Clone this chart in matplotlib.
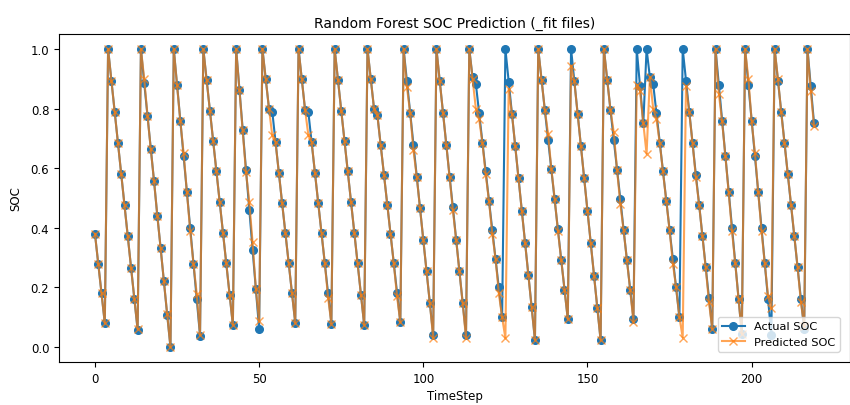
import numpy as np
import matplotlib
matplotlib.use("Agg")
import matplotlib.pyplot as plt

# SOC values, one entry per time step
actual_soc = [
    0.38, 0.28, 0.18, 0.08,
    1.0, 0.894, 0.787, 0.685, 0.58, 0.475, 0.371, 0.264, 0.161, 0.057,
    1.0, 0.886, 0.776, 0.664, 0.556, 0.44, 0.332, 0.22, 0.108, 0.0,
    1.0, 0.879, 0.757, 0.64, 0.521, 0.40, 0.28, 0.161, 0.038,
    1.0, 0.897, 0.793, 0.691, 0.589, 0.486, 0.383, 0.281, 0.176, 0.074,
    1.0, 0.863, 0.729, 0.595, 0.461, 0.327, 0.196, 0.061,
    1.0, 0.899, 0.80, 0.79, 0.687, 0.584, 0.483, 0.383, 0.282, 0.181, 0.081,
    1.0, 0.899, 0.795, 0.787, 0.687, 0.584, 0.483, 0.383, 0.282, 0.181, 0.079,
    1.0, 0.897, 0.793, 0.691, 0.589, 0.486, 0.383, 0.281, 0.176, 0.074,
    1.0, 0.899, 0.799, 0.779, 0.679, 0.578, 0.478, 0.379, 0.282, 0.183, 0.083,
    1.0, 0.894, 0.785, 0.679, 0.572, 0.466, 0.36, 0.254, 0.147, 0.040,
    1.0, 0.894, 0.785, 0.679, 0.572, 0.469, 0.36, 0.254, 0.147, 0.040,
    1.0, 0.905, 0.883, 0.785, 0.685, 0.589, 0.49, 0.393, 0.297, 0.2, 0.1,
    1.0, 0.89, 0.782, 0.673, 0.566, 0.457, 0.349, 0.242, 0.133, 0.024,
    1.0, 0.897, 0.796, 0.696, 0.597, 0.498, 0.396, 0.293, 0.192, 0.094,
    1.0, 0.891, 0.782, 0.673, 0.566, 0.457, 0.348, 0.239, 0.131, 0.023,
    1.0, 0.897, 0.795, 0.696, 0.595, 0.497, 0.393, 0.293, 0.192, 0.094,
    1.0, 0.877, 0.75,
    1.0, 0.905, 0.883, 0.785, 0.685, 0.589, 0.49, 0.393, 0.297, 0.2, 0.1,
    1.0, 0.894, 0.787, 0.685, 0.578, 0.478, 0.373, 0.267, 0.163, 0.06,
    1.0, 0.88, 0.757, 0.64, 0.519, 0.40, 0.281, 0.161, 0.044,
    1.0, 0.88, 0.757, 0.64, 0.519, 0.40, 0.281, 0.161, 0.04,
    1.0, 0.894, 0.787, 0.685, 0.58, 0.478, 0.373, 0.267, 0.161, 0.06,
    1.0, 0.877, 0.75,
]

predicted_soc = [
    0.38, 0.28, 0.18, 0.08,
    1.0, 0.894, 0.787, 0.685, 0.58, 0.475, 0.371, 0.264, 0.161, 0.06,
    1.0, 0.90, 0.776, 0.664, 0.556, 0.44, 0.332, 0.22, 0.11, 0.0,
    1.0, 0.879, 0.757, 0.65, 0.521, 0.39, 0.28, 0.178, 0.04,
    1.0, 0.897, 0.793, 0.691, 0.589, 0.486, 0.383, 0.281, 0.176, 0.074,
    1.0, 0.863, 0.729, 0.586, 0.488, 0.351, 0.196, 0.086,
    1.0, 0.899, 0.80, 0.71, 0.687, 0.584, 0.483, 0.383, 0.282, 0.18, 0.081,
    1.0, 0.899, 0.795, 0.71, 0.687, 0.584, 0.483, 0.383, 0.282, 0.166, 0.079,
    1.0, 0.897, 0.793, 0.691, 0.589, 0.486, 0.383, 0.281, 0.176, 0.074,
    1.0, 0.899, 0.799, 0.779, 0.679, 0.578, 0.478, 0.379, 0.282, 0.17, 0.083,
    1.0, 0.873, 0.785, 0.66, 0.572, 0.466, 0.36, 0.254, 0.147, 0.03,
    1.0, 0.894, 0.785, 0.679, 0.572, 0.46, 0.36, 0.254, 0.147, 0.03,
    1.0, 0.90, 0.80, 0.765, 0.685, 0.58, 0.49, 0.38, 0.297, 0.18, 0.1,
    0.03, 0.866, 0.782, 0.673, 0.566, 0.457, 0.349, 0.242, 0.133, 0.024,
    1.0, 0.897, 0.796, 0.715, 0.597, 0.498, 0.39, 0.293, 0.192, 0.094,
    0.944, 0.891, 0.782, 0.673, 0.566, 0.457, 0.348, 0.239, 0.131, 0.023,
    1.0, 0.897, 0.795, 0.72, 0.595, 0.48, 0.393, 0.293, 0.192, 0.085,
    0.88, 0.86, 0.75,
    0.648, 0.905, 0.80, 0.765, 0.685, 0.589, 0.49, 0.393, 0.28, 0.2, 0.1,
    0.032, 0.876, 0.787, 0.685, 0.57, 0.478, 0.373, 0.267, 0.15, 0.06,
    1.0, 0.85, 0.757, 0.64, 0.519, 0.39, 0.281, 0.161, 0.044,
    1.0, 0.90, 0.757, 0.65, 0.519, 0.39, 0.281, 0.17, 0.13,
    1.0, 0.90, 0.787, 0.685, 0.58, 0.478, 0.373, 0.267, 0.15, 0.07,
    1.0, 0.86, 0.74,
]

time_step = np.arange(len(actual_soc))

fig = plt.figure(figsize=(8.5, 4.06), dpi=100)
ax = fig.add_axes([59 / 850, 43 / 406, 791 / 850, 328 / 406])

ax.plot(time_step, actual_soc, marker='o', markersize=5.5, label='Actual SOC')
ax.plot(time_step, predicted_soc, marker='x', markersize=5.5, alpha=0.7, label='Predicted SOC')

ax.set_title('Random Forest SOC Prediction (_fit files)', fontsize=10, pad=5)
ax.set_xlabel('TimeStep', fontsize=8.5, labelpad=3)
ax.set_ylabel('SOC', fontsize=8.5, labelpad=6)
ax.tick_params(labelsize=8.5)
ax.legend(loc='lower right', fontsize=8.2, borderaxespad=0.9)

fig.savefig('out.png', dpi=100)
